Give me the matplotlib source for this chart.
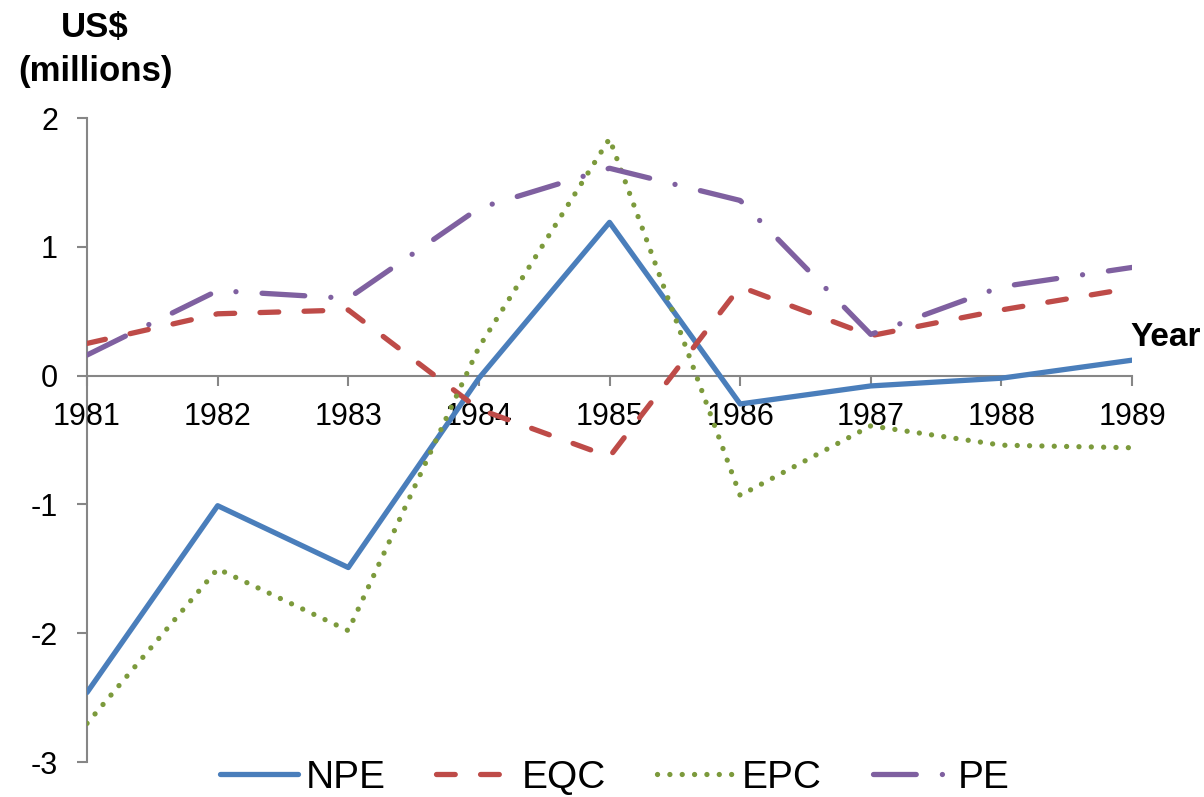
import numpy as np
import matplotlib
matplotlib.use('Agg')
import matplotlib.pyplot as plt

plt.rcParams['font.family'] = ['Liberation Sans', 'DejaVu Sans']
plt.rcParams['axes.unicode_minus'] = False

# yearly values, US$ millions
years = [1981, 1982, 1983, 1984, 1985, 1986, 1987, 1988, 1989]
npe = [-2.46, -1.01, -1.49, -0.02, 1.19, -0.22, -0.08, -0.02, 0.12]
eqc = [0.25, 0.48, 0.51, -0.26, -0.63, 0.69, 0.31, 0.51, 0.68]
epc = [-2.70, -1.50, -1.98, 0.22, 1.84, -0.93, -0.39, -0.54, -0.56]
pe = [0.16, 0.66, 0.60, 1.30, 1.61, 1.36, 0.32, 0.69, 0.84]
y_ticks = [-3, -2, -1, 0, 1, 2]

axis_grey = '#868686'
lw = 3.8

fig = plt.figure(figsize=(12.04, 7.97), dpi=100)
ax = fig.add_axes([0.0723, 0.0439, 0.9402 - 0.0723, 0.8519 - 0.0439])

ax.plot(years, npe, color='#4A7EBB', lw=lw, solid_joinstyle='round',
        solid_capstyle='round', label='NPE')
ax.plot(years, eqc, color='#BE4B48', lw=lw, dashes=(3.55, 4.8),
        dash_capstyle='round', dash_joinstyle='round', label='EQC')
ax.plot(years, epc, color='#7C9A3C', lw=lw, dashes=(0.01, 2.33),
        dash_capstyle='round', dash_joinstyle='round', label='EPC')
ax.plot(years, pe, color='#7F60A0', lw=lw, dashes=(8.1, 4.95, 0.01, 4.95),
        dash_capstyle='round', dash_joinstyle='round', label='PE')

ax.set_xlim(1981, 1989)
ax.set_ylim(-3, 2)
ax.set_xticks(years)
ax.set_yticks(y_ticks)
ax.set_xticklabels([str(y) for y in years])

for side in ['top', 'right']:
    ax.spines[side].set_visible(False)
ax.spines['bottom'].set_position(('data', 0))
for side in ['left', 'bottom']:
    ax.spines[side].set_color(axis_grey)
    ax.spines[side].set_linewidth(1.5)
    ax.spines[side].set_zorder(1)

ax.tick_params(axis='x', direction='out', length=7, width=1.5, color=axis_grey,
               labelsize=22, pad=12)
ax.tick_params(axis='y', direction='out', length=7, width=1.5, color=axis_grey,
               labelsize=22, pad=14)

ax.annotate('Year', xy=(1989, 0), xytext=(-1, 21), textcoords='offset points',
            ha='left', va='baseline', fontsize=24, fontweight='bold',
            annotation_clip=False)

fig.text(95 / 1204, 1 - 37 / 797, 'US$', ha='center', va='baseline',
         fontsize=25, fontweight='bold')
fig.text(95 / 1204, 1 - 81 / 797, '(millions)', ha='center', va='baseline',
         fontsize=25, fontweight='bold')

fig.legend(loc='center', bbox_to_anchor=(615 / 1204, 1 - 778 / 797), ncol=4,
           frameon=False, fontsize=28, handlelength=2.0, handletextpad=0.2,
           columnspacing=1.3, borderpad=0, borderaxespad=0)

fig.savefig('out.png', dpi=100)
